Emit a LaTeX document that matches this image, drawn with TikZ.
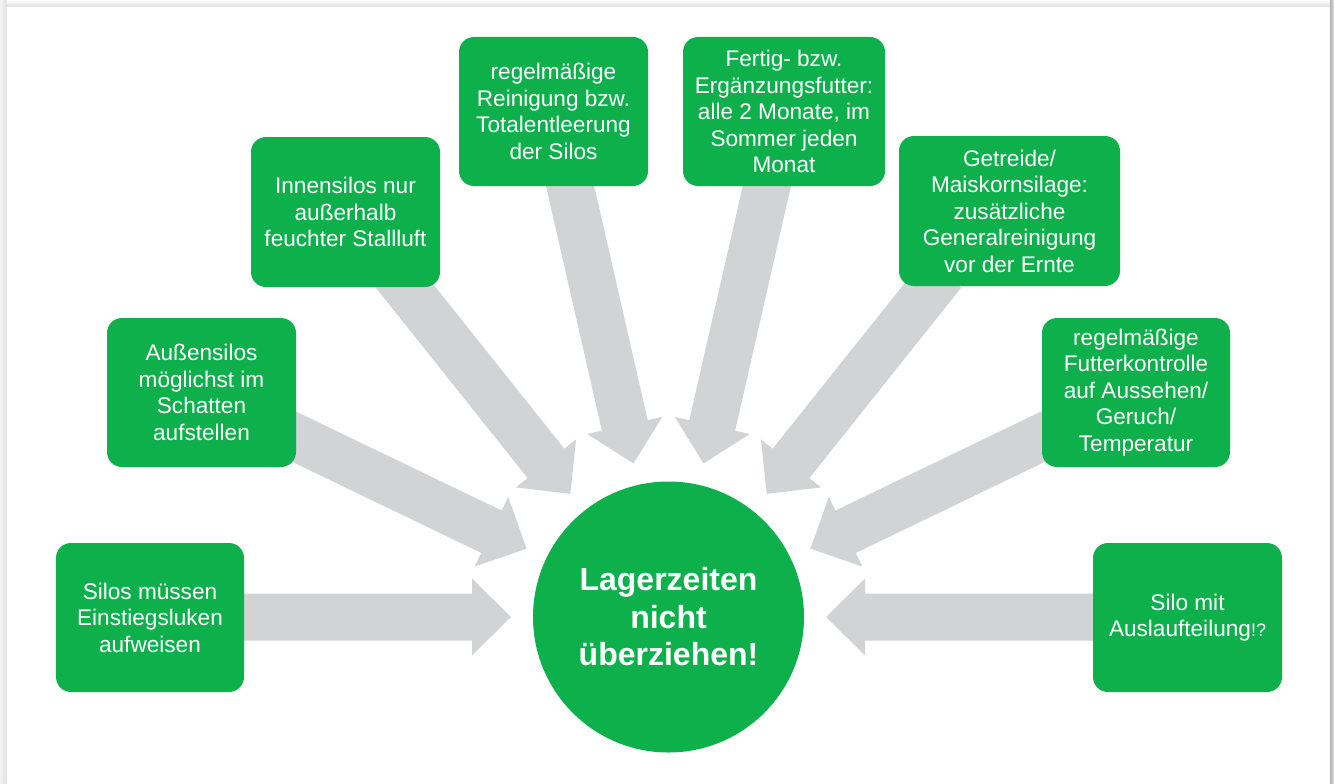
\documentclass[tikz,border=0pt]{standalone}
\usepackage{fontspec}
\setmainfont{Liberation Sans}
\usetikzlibrary{calc}
\definecolor{boxgreen}{RGB}{13,176,75}
\definecolor{arrowgray}{RGB}{209,211,212}
\newcommand\fatarrow[2]{%
  \coordinate (hb) at ($(#2)!39bp!(#1)$);
  \fill[arrowgray]
    ($(#1)!23.5bp!90:(#2)$) --
    ($(hb)!23.5bp!-90:(#1)$) --
    ($(hb)!38.5bp!-90:(#1)$) --
    (#2) --
    ($(hb)!38.5bp!90:(#1)$) --
    ($(hb)!23.5bp!90:(#1)$) --
    ($(#1)!23.5bp!-90:(#2)$) -- cycle;}
\tikzset{
  infobox/.style={rectangle, rounded corners=15bp, fill=boxgreen, text=white,
    align=center, inner sep=0pt,
    font=\fontsize{22.6bp}{26.5bp}\selectfont},
  hub/.style={circle, fill=boxgreen, text=white, align=center, inner sep=0pt,
    minimum size=271bp, font=\fontsize{32bp}{37.5bp}\selectfont\bfseries}
}
\begin{document}
\begin{tikzpicture}[x=1bp,y=-1bp]
\useasboundingbox (0,0) rectangle (1334,783);
% card with shadow
\fill[white] (0,0) rectangle (1334,783);
\shade[top color=white, bottom color=black!13] (0,0) rectangle (1334,7);
\shade[left color=black!5, right color=black!12] (0,0) rectangle (7,783);
\shade[left color=black!30, right color=black!12] (1330,0) rectangle (1334,783);
\fill[white] (7,7) rectangle (1330,783);

\coordinate (c) at (668.5,617);
% tips and tails of the arrows
\foreach \k/\d in {0/430,1/430,2/440,3/460,4/460,5/440,6/430,7/430}{
  \coordinate (tip\k) at ($(c)+(-\k*180/7:157.5)$);
  \coordinate (tail\k) at ($(c)+(-\k*180/7:\d)$);
}
\foreach \k in {0,...,7}{\fatarrow{tail\k}{tip\k}}

\node[hub] (hub) at (c) {Lagerzeiten\\nicht\\überziehen!};

\node[infobox, minimum width=188bp, minimum height=149bp] (b1) at (150,617.5)
  {Silos müssen\\Einstiegsluken\\aufweisen};
\node[infobox, minimum width=189bp, minimum height=149bp] (b2) at (201.5,392.5)
  {Außensilos\\möglichst im\\Schatten\\aufstellen};
\node[infobox, minimum width=189bp, minimum height=150bp] (b3) at (345.5,212)
  {Innensilos nur\\außerhalb\\feuchter Stallluft};
\node[infobox, minimum width=189bp, minimum height=149bp] (b4) at (553.5,111.5)
  {regelmäßige\\Reinigung bzw.\\Totalentleerung\\der Silos};
\node[infobox, minimum width=202bp, minimum height=149bp] (b5) at (784,111.5)
  {Fertig- bzw.\\Ergänzungsfutter:\\alle 2 Monate, im\\Sommer jeden\\Monat};
\node[infobox, minimum width=221bp, minimum height=150bp] (b6) at (1009.5,211)
  {Getreide/\\Maiskornsilage:\\zusätzliche\\Generalreinigung\\vor der Ernte};
\node[infobox, minimum width=188bp, minimum height=149bp] (b7) at (1136,392.5)
  {regelmäßige\\Futterkontrolle\\auf Aussehen/\\Geruch/\\Temperatur};
\node[infobox, minimum width=189bp, minimum height=149bp] (b8) at (1187.5,617.5)
  {Silo mit\\Auslaufteilung{\fontsize{18bp}{26.5bp}\selectfont!?}};
\end{tikzpicture}
\end{document}
